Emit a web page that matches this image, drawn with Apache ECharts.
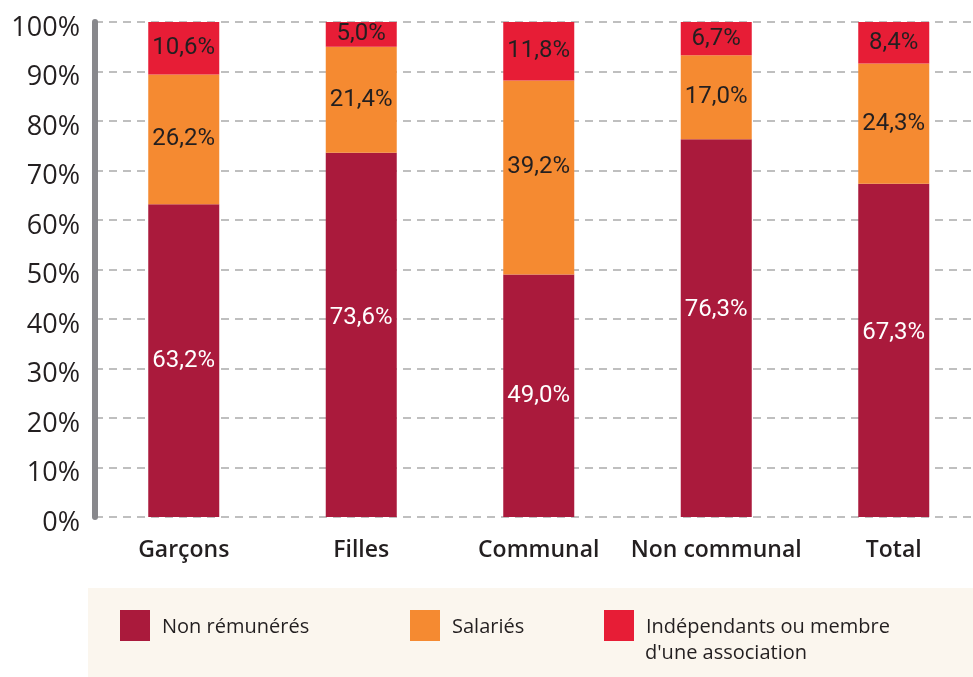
<!DOCTYPE html>
<html>
<head>
<meta charset="utf-8">
<script src="https://cdn.jsdelivr.net/npm/echarts@6/dist/echarts.min.js"></script>
<style>
  html, body { margin: 0; padding: 0; background: #fff; }
  #main { width: 973px; height: 677px; }
</style>
</head>
<body>
<div id="main"></div>
<script type="text/javascript">
	// données
	var categories = ['Garçons', 'Filles', 'Communal', 'Non communal', 'Total'];
	var nonRemuneres = [63.2, 73.6, 49.0, 76.3, 67.3];
	var salaries = [26.2, 21.4, 39.2, 17.0, 24.3];
	var independants = [10.6, 5.0, 11.8, 6.7, 8.4];
	var yTicks = [0, 10, 20, 30, 40, 50, 60, 70, 80, 90, 100];

	// petits décalages des étiquettes (comme dans l'original)
	var nudgeCrimson = [0, -17, 0, -18, -17];
	var nudgeOrange = [0, 0, -10, 0, 0];

	var myChart = echarts.init(document.getElementById('main'));

	function pct(v) {
		return v.toFixed(1).replace('.', ',') + '%';
	}

	function buildData(values, nudge) {
		return values.map(function (v, i) {
			return { value: v, label: { offset: [0, nudge ? nudge[i] : 0] } };
		});
	}

	function barSeries(name, values, color, textColor, nudge) {
		return {
			name: name,
			type: 'bar',
			stack: 'total',
			barWidth: '40%',
			data: buildData(values, nudge),
			itemStyle: { color: color },
			label: {
				show: true,
				position: 'inside',
				color: textColor,
				fontFamily: 'Roboto',
				fontSize: 24,
				formatter: function (p) { return pct(p.value); }
			}
		};
	}

	// texte de légende avec un petit espace après le carré
	var legendRich = {
		s: { width: 7 },
		t: { fontFamily: 'Open Sans', fontSize: 20, color: '#231f20', padding: [3, 0, 0, 0] }
	};
	function legendFmt(name) {
		return '{s|}{t|' + name.split('\n')[0] + '}';
	}

	var option = {
		animation: false,
		grid: { left: 95, top: 22, width: 887.5, height: 495, outerBoundsMode: 'none', containLabel: false },
		graphic: [{
			type: 'rect',
			z: -10,
			silent: true,
			shape: { x: 88, y: 588, width: 885, height: 89 },
			style: { fill: '#fbf6ee' }
		}, {
			type: 'text',
			silent: true,
			left: 645,
			top: 643,
			style: {
				text: 'd\'une association',
				fontFamily: 'Open Sans',
				fontSize: 20,
				fill: '#231f20'
			}
		}],
		legend: [{
			data: ['Non rémunérés'], left: 120, top: 610, padding: 0,
			itemWidth: 30, itemHeight: 31, selectedMode: false,
			icon: 'rect', formatter: legendFmt, textStyle: { rich: legendRich }
		}, {
			data: ['Salariés'], left: 410, top: 610, padding: 0,
			itemWidth: 30, itemHeight: 31, selectedMode: false,
			icon: 'rect', formatter: legendFmt, textStyle: { rich: legendRich }
		}, {
			data: ['Indépendants ou membre\nd\'une association'], left: 604, top: 610, padding: 0,
			itemWidth: 30, itemHeight: 31, selectedMode: false,
			icon: 'rect', formatter: legendFmt, textStyle: { rich: legendRich }
		}],
		xAxis: {
			type: 'category',
			data: categories,
			axisLine: { show: false },
			axisTick: { show: false },
			axisLabel: {
				interval: 0,
				margin: 22,
				fontFamily: 'Open Sans',
				fontWeight: 600,
				fontSize: 23,
				color: '#231f20'
			}
		},
		yAxis: {
			type: 'value',
			min: 0,
			max: 100,
			interval: 10,
			axisLine: { show: true, lineStyle: { color: '#88888c', width: 6 } },
			axisTick: { show: false },
			axisLabel: {
				margin: 15,
				fontFamily: 'Open Sans',
				fontSize: 27,
				color: '#231f20',
				verticalAlign: 'top',
				lineHeight: 12,
				formatter: function (v) { return yTicks.indexOf(v) >= 0 ? v + '%' : ''; }
			},
			splitLine: {
				show: true,
				lineStyle: { color: '#aaaaaa', width: 1.5, type: [8, 6] }
			}
		},
		series: [
			barSeries('Non rémunérés', nonRemuneres, '#aa1a3c', '#ffffff', nudgeCrimson),
			barSeries('Salariés', salaries, '#f58a31', '#231f20', nudgeOrange),
			barSeries('Indépendants ou membre\nd\'une association', independants, '#e71d36', '#231f20')
		]
	};

	myChart.setOption(option);
</script>
</body>
</html>
